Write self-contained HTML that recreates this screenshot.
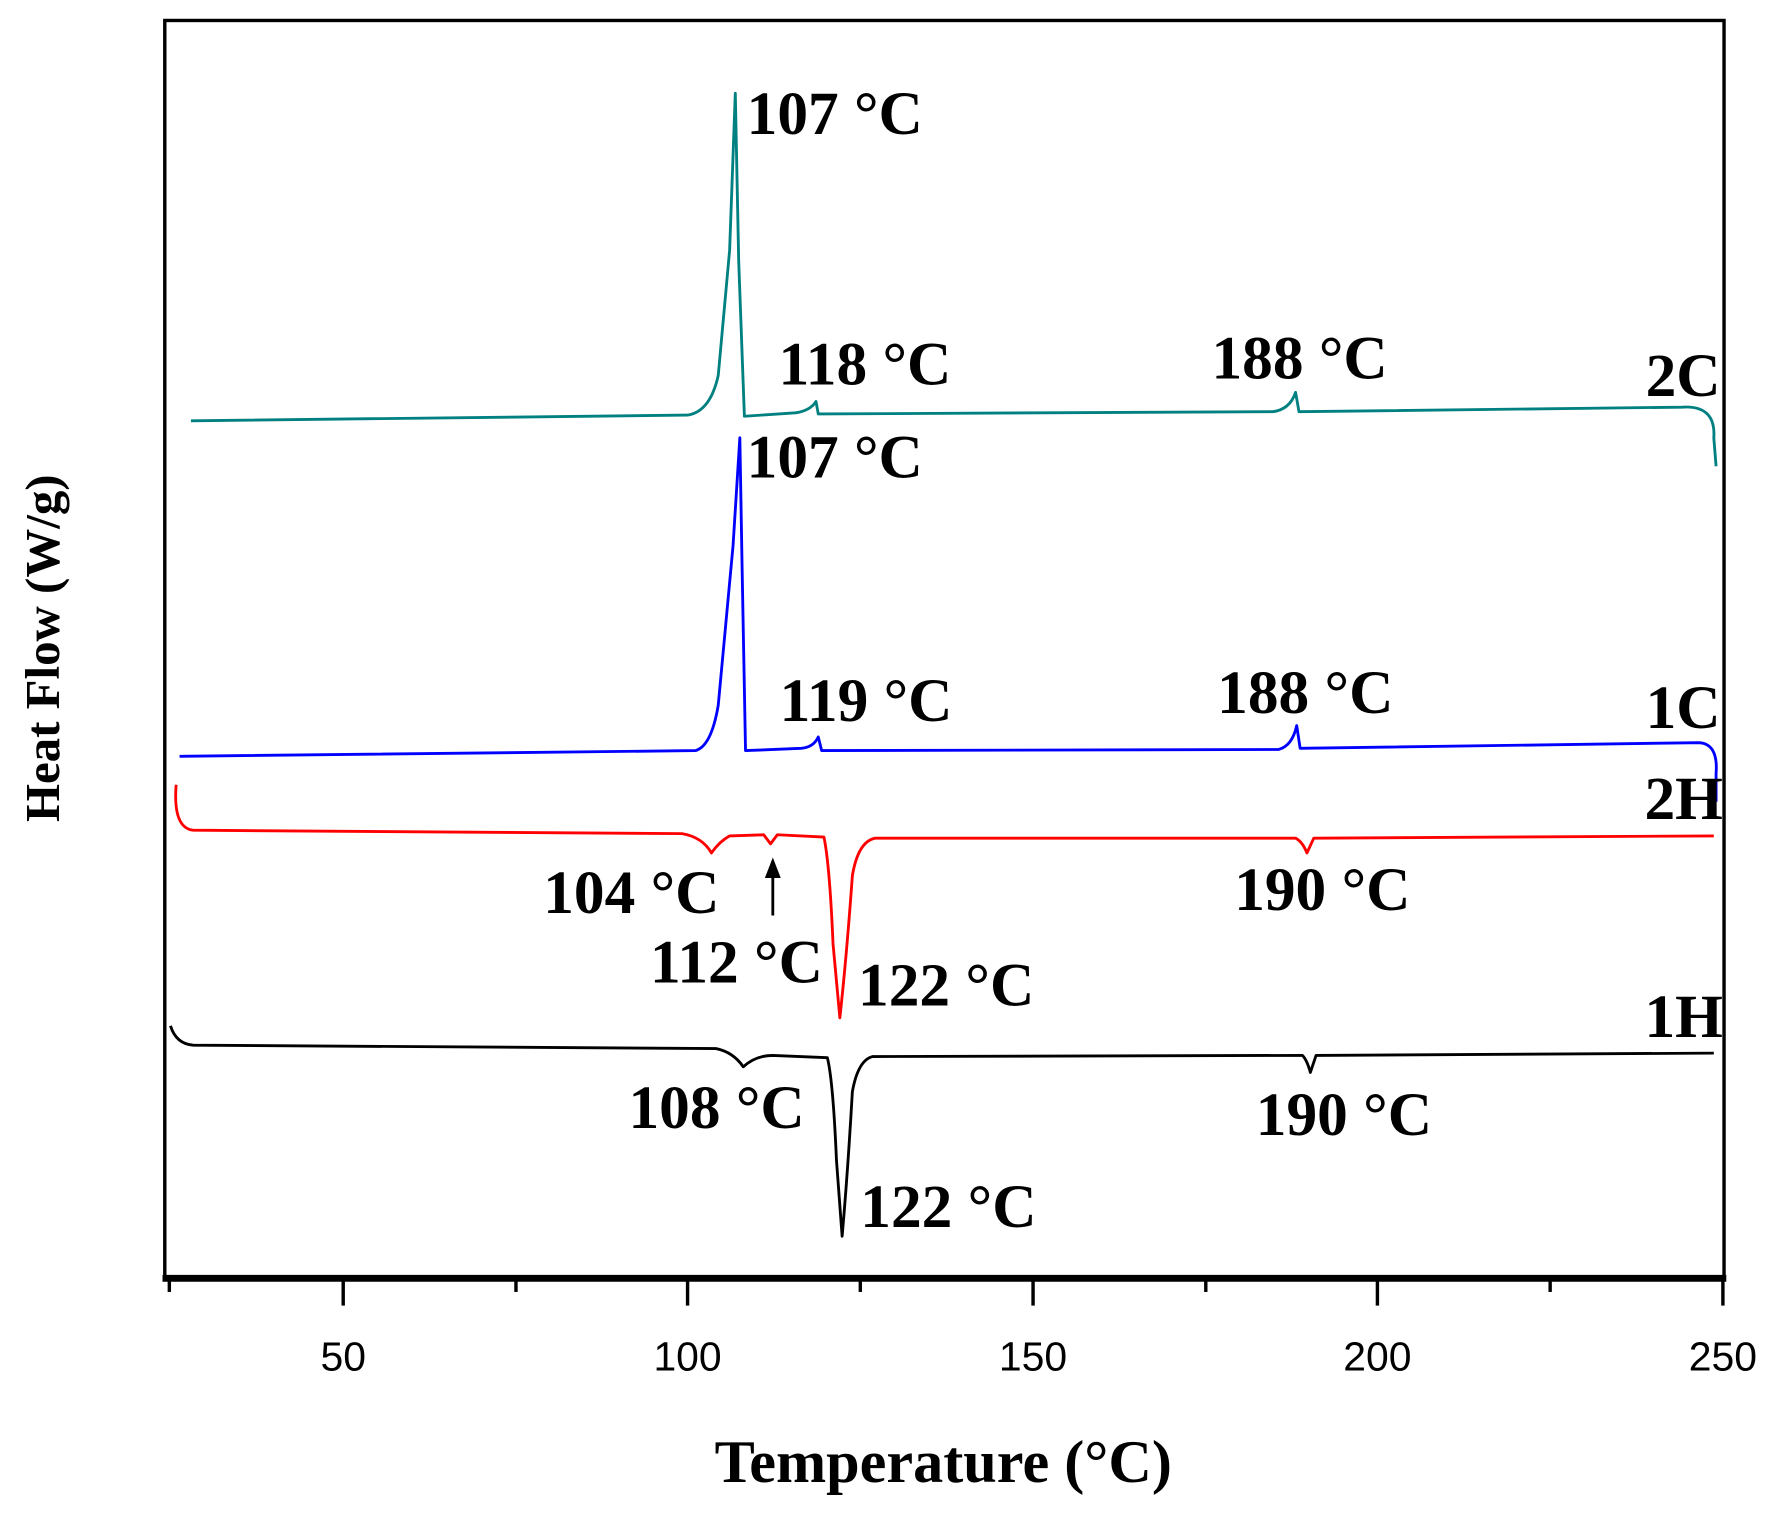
<!DOCTYPE html>
<html><head><meta charset="utf-8"><style>html,body{margin:0;padding:0;background:#fff}svg{display:block}</style></head>
<body>
<svg width="1782" height="1516" viewBox="0 0 1568 1333" preserveAspectRatio="none" xmlns="http://www.w3.org/2000/svg">
<rect x="145" y="18" width="1372" height="1107" fill="none" stroke="#000" stroke-width="3"/>
<line x1="143" y1="1124" x2="1519" y2="1124" stroke="#000" stroke-width="6"/>
<g stroke="#000" stroke-width="3">
<line x1="149" y1="1125" x2="149" y2="1136"/>
<line x1="302" y1="1125" x2="302" y2="1148"/>
<line x1="454" y1="1125" x2="454" y2="1136"/>
<line x1="605" y1="1125" x2="605" y2="1148"/>
<line x1="757" y1="1125" x2="757" y2="1136"/>
<line x1="909" y1="1125" x2="909" y2="1148"/>
<line x1="1061" y1="1125" x2="1061" y2="1136"/>
<line x1="1212" y1="1125" x2="1212" y2="1148"/>
<line x1="1364" y1="1125" x2="1364" y2="1136"/>
<line x1="1516" y1="1125" x2="1516" y2="1148"/>
</g>
<g font-family="Liberation Sans, sans-serif" font-size="36" text-anchor="middle">
<text x="302" y="1205">50</text><text x="605" y="1205">100</text><text x="909" y="1205">150</text><text x="1212" y="1205">200</text><text x="1516" y="1205">250</text>
</g>
<text x="830" y="1303" font-family="Liberation Serif, serif" font-weight="bold" font-size="53" text-anchor="middle">Temperature (°C)</text>
<text transform="translate(52,570) rotate(-90)" font-family="Liberation Serif, serif" font-weight="bold" font-size="43" text-anchor="middle">Heat Flow (W/g)</text>
<g fill="none" stroke-width="2.5" stroke-linejoin="round">
<path stroke="#008080" d="M168,370 L605,365 Q625,362 632,330 L642,220 L647,82 L650,230 L655,366 L700,363 Q713,361 718,353 L720,364 L1120,362 Q1135,360 1140,345 L1143,362 L1480,358 Q1510,356 1508,385 L1510,410"/>
<path stroke="#0000ff" d="M158,665 L612,660 Q626,656 632,620 L645,480 L651,385 L653,500 L656,660 L705,658 Q716,657 720,648 L723,660 L1125,659 Q1137,656 1141,638 L1144,658 L1495,653 Q1512,654 1510,680 L1510,705"/>
<path stroke="#ff0000" d="M155,690 Q152,728 170,730 L600,733 Q618,736 626,750 Q633,740 642,735 L672,734 L678,742 L684,734 L725,736 Q730,760 733,830 L739,895 Q745,840 750,770 Q755,740 770,737 L1140,737 Q1146,740 1150,750 L1156,737 L1508,735"/>
<path stroke="#000" d="M150,902 Q155,918 170,919 L630,922 Q645,925 654,938 Q665,928 680,928 L728,930 Q733,950 736,1020 L741,1087 Q746,1030 750,960 Q755,932 768,929 L1146,928 Q1150,932 1153,943 L1158,928 L1508,926"/>
</g>
<line x1="680" y1="805" x2="680" y2="768" stroke="#000" stroke-width="2.5"/>
<polygon points="680,754 673,772 687,772" fill="#000"/>
<g font-family="Liberation Serif, serif" font-weight="bold" font-size="54">
<text x="657" y="118">107 °C</text>
<text x="685" y="338">118 °C</text>
<text x="1066" y="333">188 °C</text>
<text x="1448" y="348">2C</text>
<text x="657" y="420">107 °C</text>
<text x="686" y="634">119 °C</text>
<text x="1071" y="627">188 °C</text>
<text x="1448" y="640">1C</text>
<text x="1447" y="720">2H</text>
<text x="478" y="803">104 °C</text>
<text x="572" y="864">112 °C</text>
<text x="755" y="884">122 °C</text>
<text x="1086" y="800">190 °C</text>
<text x="1447" y="912">1H</text>
<text x="553" y="992">108 °C</text>
<text x="1105" y="998">190 °C</text>
<text x="757" y="1079">122 °C</text>
</g>
</svg>
</body></html>
